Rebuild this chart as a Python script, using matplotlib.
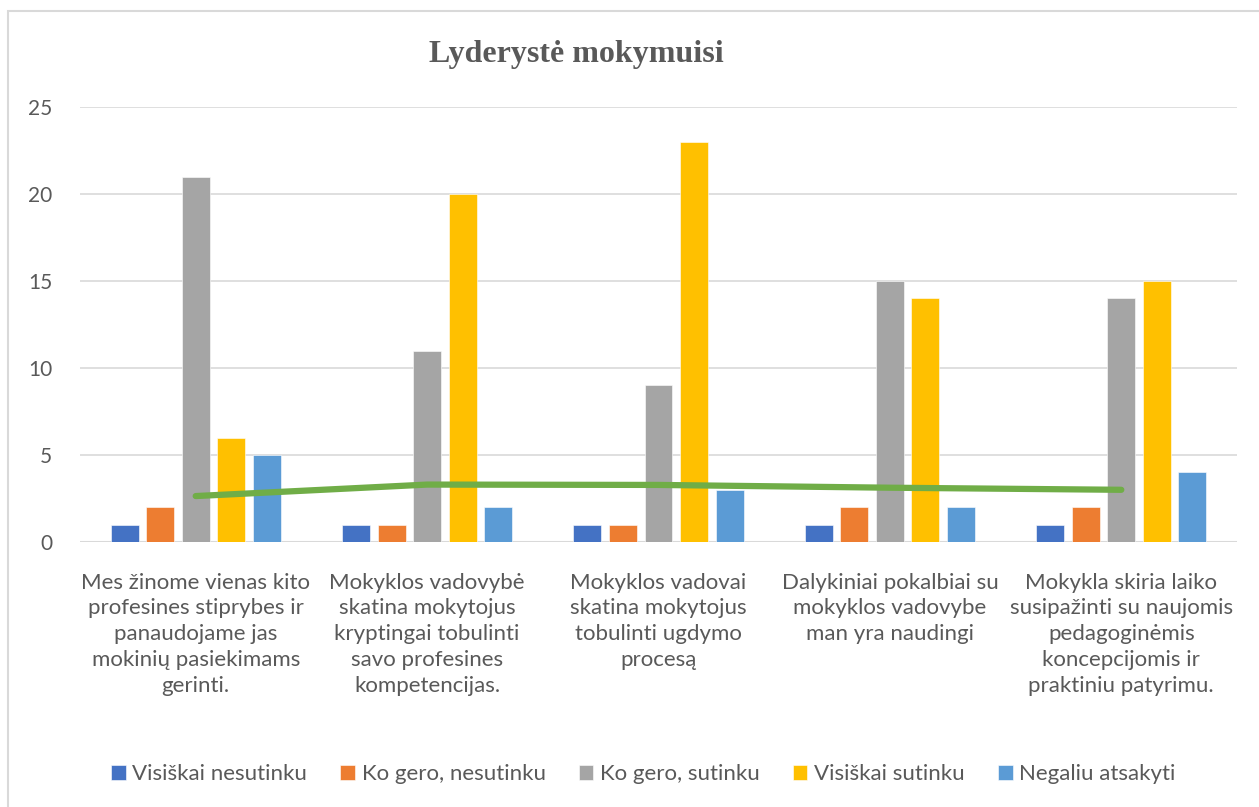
import numpy as np
import matplotlib.pyplot as plt
from matplotlib.patches import Rectangle

categories = [
    "Mes žinome vienas kito\nprofesines stiprybes ir\npanaudojame jas\nmokinių pasiekimams\ngerinti.",
    "Mokyklos vadovybė\nskatina mokytojus\nkryptingai tobulinti\nsavo profesines\nkompetencijas.",
    "Mokyklos vadovai\nskatina mokytojus\ntobulinti ugdymo\nprocesą",
    "Dalykiniai pokalbiai su\nmokyklos vadovybe\nman yra naudingi",
    "Mokykla skiria laiko\nsusipažinti su naujomis\npedagoginėmis\nkoncepcijomis ir\npraktiniu patyrimu.",
]
series_names = ["Visiškai nesutinku", "Ko gero, nesutinku", "Ko gero, sutinku",
                "Visiškai sutinku", "Negaliu atsakyti"]
visiskai_nesutinku = [1, 1, 1, 1, 1]
ko_gero_nesutinku = [2, 1, 1, 2, 2]
ko_gero_sutinku = [21, 11, 9, 15, 14]
visiskai_sutinku = [6, 20, 23, 14, 15]
negaliu_atsakyti = [5, 2, 3, 2, 4]
line_values = [2.64, 3.3, 3.28, 3.12, 3.0]

colors = ["#4472C4", "#ED7D31", "#A5A5A5", "#FFC000", "#5B9BD5"]
series = [visiskai_nesutinku, ko_gero_nesutinku, ko_gero_sutinku,
          visiskai_sutinku, negaliu_atsakyti]

fig = plt.figure(figsize=(12.59, 8.07), dpi=100)
fig.patches.append(Rectangle((8 / 1259, -0.05), 1.1, 0.05 + (807 - 11) / 807,
                             transform=fig.transFigure, fill=False,
                             edgecolor="#D9D9D9", linewidth=1.5))
ax = fig.add_axes([80 / 1259, 265 / 807, 1157 / 1259, 435 / 807])

x = np.arange(len(categories))
width = 0.121
step = 0.1535
for i, (vals, name, c) in enumerate(zip(series, series_names, colors)):
    ax.bar(x + (i - 2) * step, vals, width, color=c, label=name, zorder=3,
           edgecolor="white", linewidth=0.4)

ax.plot(x, line_values, color="#70AD47", linewidth=4.5, solid_capstyle="round", zorder=4)

ax.set_xlim(-0.5, len(categories) - 0.5)
ax.set_ylim(0, 25)
ax.set_yticks(range(0, 26, 5))
ax.grid(axis="y", color="#D9D9D9", linewidth=1.2, zorder=0)
for s in ax.spines.values():
    s.set_visible(False)
ax.axhline(0, color="#D9D9D9", linewidth=1.5, zorder=2)
ax.tick_params(length=0, labelcolor="#595959")
ax.tick_params(axis="y", pad=20, labelsize=15)
ax.set_xticks(x)
ax.set_xticklabels(categories, fontsize=16, linespacing=1.36, va="top")
ax.tick_params(axis="x", pad=22)
for lbl in ax.get_xticklabels() + ax.get_yticklabels():
    lbl.set_family(["Lato", "DejaVu Sans"])

fig.text(0.4575, 0.932, "Lyderystė mokymuisi", ha="center", va="center",
         fontsize=23, fontweight="bold", color="#595959",
         family=["Liberation Serif", "DejaVu Serif"])

leg = fig.legend(loc="center", bbox_to_anchor=(0.511, 0.041), ncol=5, frameon=False,
                 prop={"family": ["Lato", "DejaVu Sans"], "size": 16},
                 handlelength=0.65, handleheight=0.65, handletextpad=0.3, columnspacing=1.5)
for t in leg.get_texts():
    t.set_color("#595959")

fig.savefig("out.png", dpi=100)
